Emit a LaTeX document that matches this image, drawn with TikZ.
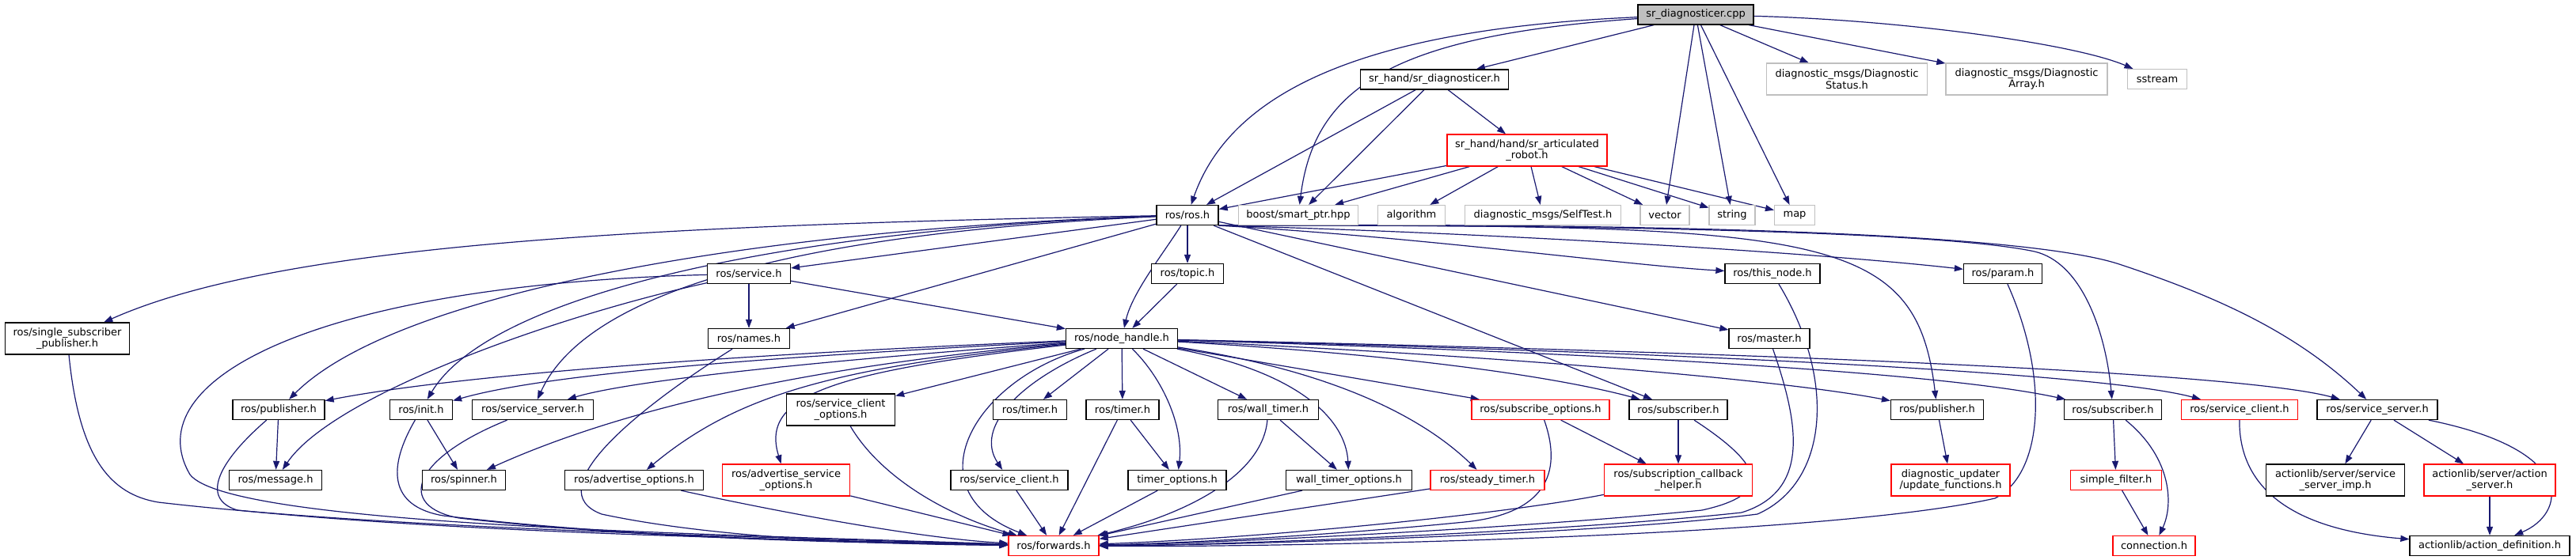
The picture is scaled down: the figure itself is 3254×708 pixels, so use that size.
\documentclass[tikz,border=0pt]{standalone}
\usepackage{fontspec}
\setmainfont{DejaVu Sans}
\usetikzlibrary{arrows.meta}
\definecolor{edgec}{HTML}{191970}
\definecolor{gr}{HTML}{BFBFBF}
\definecolor{rd}{HTML}{FF0000}
\pgfdeclarelayer{back}
\pgfdeclarelayer{bg}
\pgfsetlayers{back,bg,main}
\begin{document}
\begin{tikzpicture}[x=1pt,y=-1pt,
  nd/.style={rectangle, draw=black, fill=white, line width=1.3pt, inner sep=0pt, minimum height=25pt, align=center, font=\fontsize{13}{14.5}\selectfont},
  two/.style={minimum height=40pt},
  gn/.style={nd, draw=gr, line width=1.2pt},
  rn/.style={nd, draw=rd},
  bn/.style={nd},
  rootn/.style={nd, fill=gr},
  dep/.style={draw=edgec, line width=1.2pt, -{Triangle[length=11pt,width=8pt]}}]
\begin{pgfonlayer}{back}
\fill[white] (0,0) rectangle (3254,708);
\end{pgfonlayer}
\useasboundingbox (0,0) rectangle (3254,708);
% row 0
\node[rootn, minimum width=146pt] (cpp) at (2142,18.5) {sr\_diagnosticer.cpp};
% row 1
\node[bn, minimum width=187pt] (srdiag) at (1812,100.5) {sr\_hand/sr\_diagnosticer.h};
\node[gn, two, minimum width=203pt] (dstatus) at (2333,100) {diagnostic\_msgs/Diagnostic\\Status.h};
\node[gn, two, minimum width=204pt] (darray) at (2560,100) {diagnostic\_msgs/Diagnostic\\Array.h};
\node[gn, minimum width=75pt] (sstream) at (2725,100) {sstream};
% row 2
\node[rn, two, minimum width=202pt] (artic) at (1929,190) {sr\_hand/hand/sr\_articulated\\\_robot.h};
% row 3
\node[bn, minimum width=78pt] (ros) at (1500,272) {ros/ros.h};
\node[gn, minimum width=151pt] (smart) at (1640,272) {boost/smart\_ptr.hpp};
\node[gn, minimum width=85pt] (algo) at (1783,272) {algorithm};
\node[gn, minimum width=197pt] (selftest) at (1949,272) {diagnostic\_msgs/SelfTest.h};
\node[gn, minimum width=62pt] (vector) at (2103,272) {vector};
\node[gn, minimum width=58pt] (string) at (2188,272) {string};
\node[gn, minimum width=51pt] (map) at (2267,272) {map};
% row 4
\node[bn, minimum width=105pt] (service) at (946,346) {ros/service.h};
\node[bn, minimum width=91pt] (topic) at (1500,346) {ros/topic.h};
\node[bn, minimum width=120pt] (thisnode) at (2239,346) {ros/this\_node.h};
\node[bn, minimum width=99pt] (param) at (2530,346) {ros/param.h};
% row 5
\node[bn, two, minimum width=157pt] (single) at (85,428) {ros/single\_subscriber\\\_publisher.h};
\node[bn, minimum width=103pt] (names) at (946,428) {ros/names.h};
\node[bn, minimum width=141pt] (nodeh) at (1417,428) {ros/node\_handle.h};
\node[bn, minimum width=102pt] (master) at (2235,428) {ros/master.h};
% row 6
\node[bn, minimum width=116pt] (pub1) at (352,518) {ros/publisher.h};
\node[bn, minimum width=79pt] (init) at (532,518) {ros/init.h};
\node[bn, minimum width=153pt] (ss1) at (673,518) {ros/service\_server.h};
\node[bn, two, minimum width=137pt] (sco) at (1062,518) {ros/service\_client\\\_options.h};
\node[bn, minimum width=93pt] (timer1) at (1301,518) {ros/timer.h};
\node[bn, minimum width=92pt] (timer2) at (1418,518) {ros/timer.h};
\node[bn, minimum width=127pt] (wtimer) at (1602,518) {ros/wall\_timer.h};
\node[rn, minimum width=174pt] (subopt) at (1946,518) {ros/subscribe\_options.h};
\node[bn, minimum width=124pt] (sub1) at (2120,518) {ros/subscriber.h};
\node[bn, minimum width=117pt] (pub2) at (2447,518) {ros/publisher.h};
\node[bn, minimum width=123pt] (sub2) at (2669,518) {ros/subscriber.h};
\node[rn, minimum width=147pt] (sc2) at (2829,518) {ros/service\_client.h};
\node[bn, minimum width=152pt] (ss2) at (3003,518) {ros/service\_server.h};
% row 7
\node[bn, minimum width=117pt] (msg) at (348,607) {ros/message.h};
\node[bn, minimum width=105pt] (spinner) at (586,607) {ros/spinner.h};
\node[bn, minimum width=175pt] (advopt) at (801,607) {ros/advertise\_options.h};
\node[rn, two, minimum width=161pt] (advsopt) at (993,607) {ros/advertise\_service\\\_options.h};
\node[bn, minimum width=148pt] (sc1) at (1275,607) {ros/service\_client.h};
\node[bn, minimum width=124pt] (topt) at (1487,607) {timer\_options.h};
\node[bn, minimum width=159pt] (wtopt) at (1704,607) {wall\_timer\_options.h};
\node[rn, minimum width=144pt] (steady) at (1879,607) {ros/steady\_timer.h};
\node[rn, two, minimum width=187pt] (sch) at (2120,607) {ros/subscription\_callback\\\_helper.h};
\node[rn, two, minimum width=150pt] (updf) at (2464,607) {diagnostic\_updater\\/update\_functions.h};
\node[rn, minimum width=115pt] (sfilter) at (2673,607) {simple\_filter.h};
\node[bn, two, minimum width=175pt] (ssimp) at (2950,607) {actionlib/server/service\\\_server\_imp.h};
\node[rn, two, minimum width=166pt] (aserver) at (3145,607) {actionlib/server/action\\\_server.h};
% row 8
\node[rn, minimum width=114pt] (fwd) at (1331,690) {ros/forwards.h};
\node[rn, minimum width=104pt] (conn) at (2721,690) {connection.h};
\node[bn, minimum width=202pt] (adef) at (3145,690) {actionlib/action\_definition.h};

\begin{pgfonlayer}{bg}
% edges from cpp
\draw[dep] (cpp) -- (srdiag);
\draw[dep] (cpp) .. controls (1760,35) and (1560,100) .. (ros);
\draw[dep] (cpp) .. controls (1760,45) and (1660,110) .. (smart);
\draw[dep] (cpp) -- (vector);
\draw[dep] (cpp) -- (string);
\draw[dep] (cpp) -- (map);
\draw[dep] (cpp) -- (dstatus);
\draw[dep] (cpp) -- (darray);
\draw[dep] (cpp) .. controls (2400,25) and (2620,55) .. (sstream);
% srdiag
\draw[dep] (srdiag) -- (ros);
\draw[dep] (srdiag) -- (smart);
\draw[dep] (srdiag) -- (artic);
% artic
\draw[dep] (artic) -- (ros);
\draw[dep] (artic) -- (smart);
\draw[dep] (artic) -- (algo);
\draw[dep] (artic) -- (selftest);
\draw[dep] (artic) -- (vector);
\draw[dep] (artic) -- (string);
\draw[dep] (artic) -- (map);
% ros
\draw[dep] (ros) -- (service);
\draw[dep] (ros) -- (topic);
\draw[dep] (ros) .. controls (1470,320) and (1430,370) .. (nodeh);
\draw[dep] (ros) -- (names);
\draw[dep] (ros) .. controls (800,285) and (350,310) .. (single);
\draw[dep] (ros) .. controls (950,290) and (500,370) .. (pub1);
\draw[dep] (ros) .. controls (1000,290) and (620,370) .. (init);
\draw[dep] (ros) .. controls (1000,295) and (740,370) .. (ss1);
\draw[dep] (ros) -- (sub1);
\draw[dep] (ros) -- (master);
\draw[dep] (ros.south east) .. controls (1800,300) and (2050,335) .. (thisnode);
\draw[dep] (ros.south east) .. controls (1900,295) and (2300,320) .. (param);
\draw[dep] (ros.south east) .. controls (2300,284) and (2420,290) .. (pub2);
\draw[dep] (ros.south east) .. controls (2000,284) and (2450,292) .. (2570,318) .. controls (2630,332) and (2660,420) .. (sub2);
\draw[dep] (ros.south east) .. controls (2000,282) and (2550,290) .. (2680,335) .. controls (2800,375) and (2900,420) .. (ss2);
% topic, service
\draw[dep] (topic) -- (nodeh);
\draw[dep] (service) -- (names);
\draw[dep] (service) -- (nodeh);
\draw[dep] (service) .. controls (700,400) and (420,500) .. (msg);
\draw[dep] (service) .. controls (400,360) and (170,480) .. (240,600) .. controls (290,665) and (900,675) .. (fwd);
% into forwards from the left
\draw[dep] (single) .. controls (100,580) and (140,625) .. (200,635) .. controls (500,670) and (1000,680) .. (fwd);
\draw[dep] (pub1) .. controls (280,580) and (250,630) .. (300,645) .. controls (600,675) and (1000,682) .. (fwd);
\draw[dep] (pub1) -- (msg);
\draw[dep] (init) .. controls (490,590) and (490,640) .. (560,652) .. controls (800,680) and (1050,685) .. (fwd);
\draw[dep] (init) -- (spinner);
\draw[dep] (ss1) .. controls (520,580) and (500,640) .. (580,655) .. controls (800,680) and (1050,686) .. (fwd);
\draw[dep] (names) .. controls (800,520) and (680,620) .. (760,650) .. controls (900,680) and (1100,688) .. (fwd);
\draw[dep] (advopt) .. controls (950,640) and (1150,680) .. (fwd);
\draw[dep] (advsopt) -- (fwd);
\draw[dep] (sco) .. controls (1110,600) and (1190,650) .. (fwd);
\draw[dep] (nodeh) .. controls (1230,480) and (1150,620) .. (fwd);
\draw[dep] (sc1) -- (fwd);
\draw[dep] (timer2) -- (fwd);
\draw[dep] (topt) -- (fwd);
\draw[dep] (wtopt) -- (fwd);
\draw[dep] (wtimer) .. controls (1595,600) and (1500,650) .. (fwd);
\draw[dep] (steady) -- (fwd);
\draw[dep] (subopt) .. controls (1975,600) and (1950,650) .. (1850,660) .. controls (1650,680) and (1450,688) .. (fwd);
\draw[dep] (sch) .. controls (1900,650) and (1600,680) .. (fwd);
\draw[dep] (sub1) .. controls (2230,590) and (2240,625) .. (2150,645) .. controls (1900,670) and (1500,688) .. (fwd);
\draw[dep] (master) .. controls (2270,530) and (2290,620) .. (2200,648) .. controls (1950,675) and (1500,690) .. (fwd);
\draw[dep] (thisnode) .. controls (2320,480) and (2310,610) .. (2220,650) .. controls (2000,678) and (1500,690) .. (fwd);
\draw[dep] (param) .. controls (2590,480) and (2580,600) .. (2520,630) .. controls (2300,680) and (1600,692) .. (fwd);
% node_handle
\draw[dep] (nodeh) .. controls (1000,445) and (600,470) .. (pub1);
\draw[dep] (nodeh) .. controls (1000,450) and (700,470) .. (init);
\draw[dep] (nodeh) .. controls (1050,455) and (800,480) .. (ss1);
\draw[dep] (nodeh) .. controls (1050,460) and (800,510) .. (spinner);
\draw[dep] (nodeh) .. controls (1050,465) and (930,500) .. (advopt);
\draw[dep] (nodeh) .. controls (1050,470) and (960,500) .. (advsopt);
\draw[dep] (nodeh) -- (sco);
\draw[dep] (nodeh) -- (timer1);
\draw[dep] (nodeh) -- (timer2);
\draw[dep] (nodeh) -- (wtimer);
\draw[dep] (nodeh) .. controls (1470,480) and (1495,540) .. (topt);
\draw[dep] (nodeh) .. controls (1290,480) and (1230,540) .. (sc1);
\draw[dep] (nodeh) .. controls (1640,470) and (1700,530) .. (wtopt);
\draw[dep] (nodeh) .. controls (1690,470) and (1800,530) .. (steady);
\draw[dep] (nodeh) -- (subopt);
\draw[dep] (nodeh) .. controls (1800,450) and (1980,480) .. (sub1);
\draw[dep] (nodeh) .. controls (1900,450) and (2250,480) .. (pub2);
\draw[dep] (nodeh) .. controls (2000,445) and (2450,470) .. (sub2);
\draw[dep] (nodeh) .. controls (2100,445) and (2650,470) .. (sc2);
\draw[dep] (nodeh) .. controls (2200,445) and (2830,470) .. (ss2);
% timers
\draw[dep] (timer2) -- (topt);
\draw[dep] (wtimer) -- (wtopt);
% right part
\draw[dep] (subopt) -- (sch);
\draw[dep] (sub1) -- (sch);
\draw[dep] (pub2) -- (updf);
\draw[dep] (sub2) -- (sfilter);
\draw[dep] (sub2) .. controls (2745,580) and (2745,640) .. (conn);
\draw[dep] (sfilter) -- (conn);
\draw[dep] (sc2) .. controls (2828,620) and (2900,670) .. (adef);
\draw[dep] (ss2) -- (ssimp);
\draw[dep] (ss2) -- (aserver);
\draw[dep] (ss2) .. controls (3260,570) and (3240,650) .. (adef);
\draw[dep] (aserver) -- (adef);
\end{pgfonlayer}
\end{tikzpicture}
\end{document}
